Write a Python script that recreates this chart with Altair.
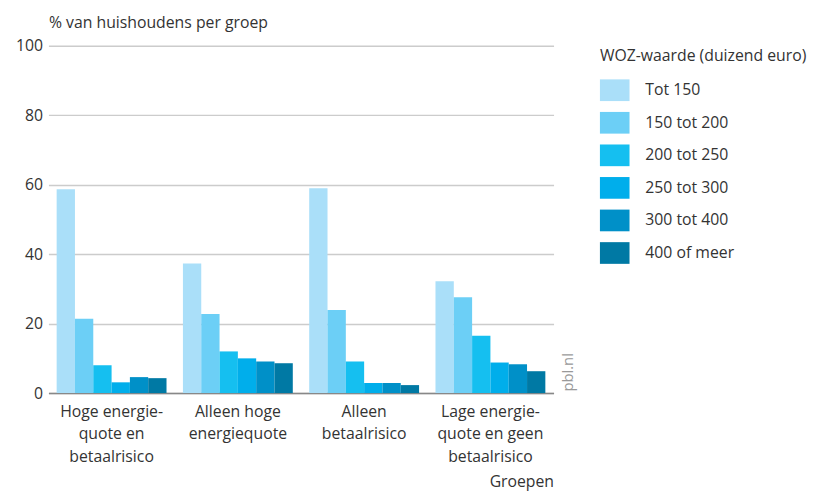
import altair as alt
import pandas as pd

groups = ["Hoge energie-|quote en|betaalrisico", "Alleen hoge|energiequote", "Alleen|betaalrisico", "Lage energie-|quote en geen|betaalrisico"]
woz = ["Tot 150", "150 tot 200", "200 tot 250", "250 tot 300", "300 tot 400", "400 of meer"]
colors = ["#aadff9", "#6ccff6", "#15bff0", "#00aeeb", "#0090c8", "#0079a4"]

v_g1 = [58.7, 21.4, 8.0, 3.1, 4.6, 4.3]
v_g2 = [37.3, 22.8, 12.0, 10.0, 9.1, 8.6]
v_g3 = [59.0, 23.9, 9.1, 2.9, 2.9, 2.3]
v_g4 = [32.2, 27.6, 16.5, 8.8, 8.3, 6.3]

rows = []
for g, vals in zip(groups, [v_g1, v_g2, v_g3, v_g4]):
    for w, v in zip(woz, vals):
        rows.append({"groep": g, "woz": w, "waarde": v})
df = pd.DataFrame(rows)

FONT = "Open Sans"
TXT = "#333333"
FS = 16

bars = alt.Chart(df).mark_bar().encode(
    x=alt.X("groep:N", sort=groups,
            scale=alt.Scale(paddingInner=0.13, paddingOuter=0.065),
            axis=alt.Axis(title="Groepen", labelExpr="split(datum.label, '|')",
                          labelAngle=0, labelFontSize=FS, labelFont=FONT, labelColor=TXT,
                          labelLineHeight=22.5, labelPadding=11, ticks=False,
                          domainColor="#888888", domainWidth=1.5,
                          titleAnchor="end", titleAlign="right", titleFontWeight="normal",
                          titleFontSize=FS, titleFont=FONT, titleColor=TXT, titlePadding=10)),
    xOffset=alt.XOffset("woz:N", sort=woz, scale=alt.Scale(paddingInner=0, paddingOuter=0)),
    y=alt.Y("waarde:Q", scale=alt.Scale(domain=[0, 100]),
            axis=alt.Axis(title="% van huishoudens per groep", values=[0, 20, 40, 60, 80, 100],
                          titleAngle=0, titleAlign="left", titleBaseline="alphabetic",
                          titleX=0, titleY=-19, titleFontWeight="normal",
                          titleFontSize=FS, titleFont=FONT, titleColor=TXT,
                          labelFontSize=FS, labelFont=FONT, labelColor=TXT, labelPadding=6,
                          ticks=False, domain=False, gridColor="#cccccc", gridWidth=1.5)),
    color=alt.Color("woz:N", sort=woz, scale=alt.Scale(domain=woz, range=colors),
                    legend=alt.Legend(title="WOZ-waarde (duizend euro)", orient="right", offset=45,
                                      padding=2,
                                      titleFontSize=FS, titleFont=FONT, titleColor=TXT,
                                      titleFontWeight="normal", titlePadding=12, titleLimit=400,
                                      labelFontSize=FS, labelFont=FONT, labelColor=TXT,
                                      labelOffset=16, rowPadding=7, labelLimit=300,
                                      symbolType="M-1,-0.733L1,-0.733L1,0.733L-1,0.733Z",
                                      symbolSize=900, symbolStrokeWidth=0, symbolOpacity=1)),
)

src = alt.Chart(pd.DataFrame({"t": ["pbl.nl"]})).mark_text(
    angle=270, fontSize=15, font=FONT, color="#999999", align="center", baseline="middle"
).encode(x=alt.value(527), y=alt.value(331), text="t:N")

chart = alt.layer(bars, src).properties(
    width=512, height=352,
    padding={"top": 3, "left": 7, "right": 5, "bottom": 5},
).configure_view(stroke=None)
chart.save("out.html", embed_options={"renderer": "svg", "actions": False})
